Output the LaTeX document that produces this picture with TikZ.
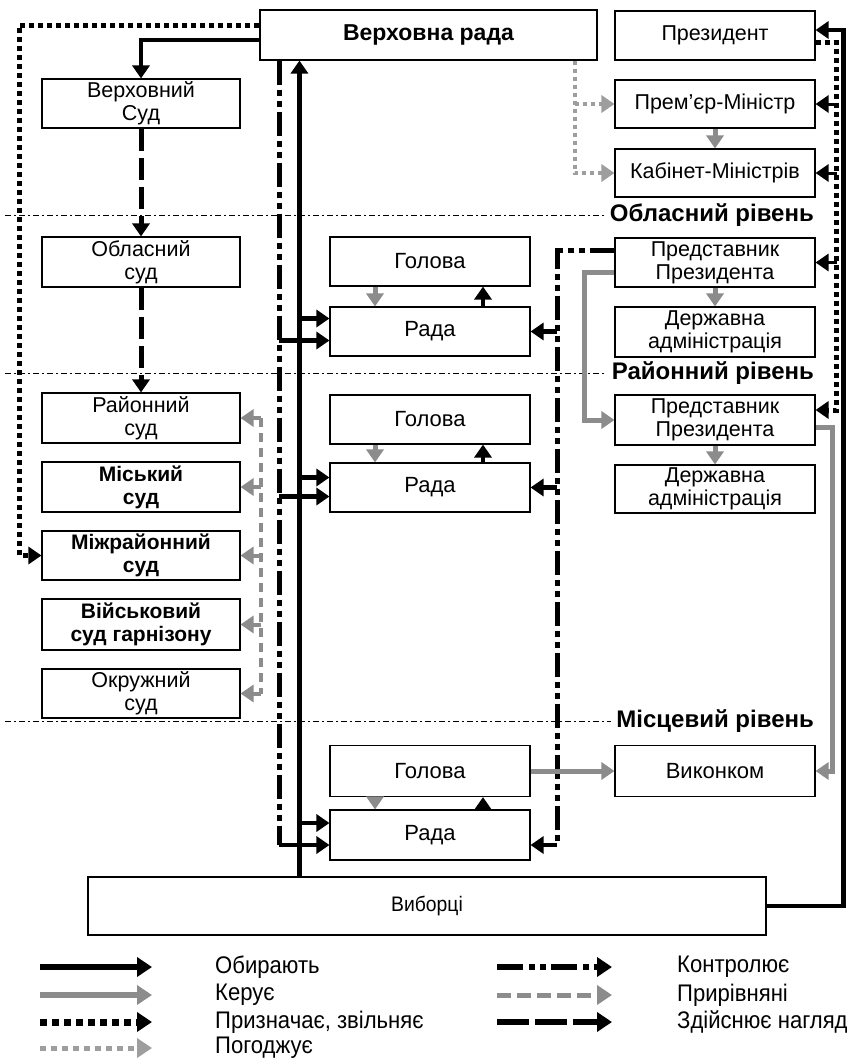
\documentclass[tikz,border=0pt]{standalone}
\usepackage{fontspec}
\setmainfont{Liberation Sans}
\newfontfamily\narrowfont[FakeStretch=0.92]{Liberation Sans}
\usetikzlibrary{arrows.meta}
\definecolor{mgray}{gray}{0.55}
\definecolor{lgray}{gray}{0.62}
\tikzset{
  box/.style={draw, line width=1.1pt, minimum width=200pt, minimum height=49pt, inner sep=1pt, align=center, font=\fontsize{21.5}{23}\selectfont},
  cbox/.style={box, minimum width=198pt},
  bbox/.style={cbox, font=\bfseries\fontsize{21}{23}\selectfont},
  nbox/.style={box, font=\fontsize{22}{23}\selectfont},
  lvl/.style={font=\bfseries\fontsize{24}{26}\selectfont, inner sep=5pt},
  legtxt/.style={anchor=west, inner sep=0pt, font=\narrowfont\fontsize{24}{26}\selectfont},
  tipK/.style={-{Triangle[length=13pt,width=17pt]}},
  elect/.style={line width=4.5pt, black, tipK},
  manage/.style={line width=5pt, mgray, tipK},
  appoint/.style={line width=5pt, black, dash pattern=on 5pt off 4pt, tipK},
  agree/.style={line width=4pt, lgray, dash pattern=on 4pt off 4pt, tipK},
  control/.style={line width=5pt, black, dash pattern=on 24pt off 5pt on 6pt off 5pt on 6pt off 5pt},
  ctrltip/.style={line width=4.5pt, black, tipK},
  equal/.style={line width=4pt, mgray, dash pattern=on 9pt off 6pt},
  eqtip/.style={line width=4pt, mgray, tipK},
  superv/.style={line width=5pt, black, dash pattern=on 22pt off 7pt, tipK},
  level/.style={line width=0.8pt, black, dash pattern=on 6pt off 3pt on 2pt off 3pt},
}
\begin{document}
\begin{tikzpicture}[x=1pt,y=-1pt]
\path[fill=white, use as bounding box] (0,0) rectangle (847,1060);

% level lines
\node[lvl, anchor=east] (l1) at (819,215) {Обласний рівень};
\node[lvl, anchor=east] (l2) at (819,373) {Районний рівень};
\node[lvl, anchor=east] (l3) at (819,721) {Місцевий рівень};
\coordinate (l1s) at (5,215);
\coordinate (l2s) at (5,373);
\coordinate (l3s) at (5,721);
\draw[level] (l1s) -- (l1.west);
\draw[level] (l2s) -- (l2.west);
\draw[level] (l3s) -- (l3.west);

% top
\node[box, minimum width=337pt, minimum height=50pt, font=\bfseries\fontsize{23}{25}\selectfont] (vr) at (428.5,35) {Верховна рада};
\node[box] (pres) at (715,35.5) {Президент};
\node[box, minimum height=48pt] (pm) at (715,104) {Прем’єр-Міністр};
\node[box, minimum height=48pt] (km) at (715,173) {Кабінет-Міністрів};

% courts
\node[cbox] (vs) at (141,103.5) {Верховний\\Суд};
\node[cbox, minimum height=50pt] (os) at (141,262) {Обласний\\суд};
\node[cbox, minimum height=50pt] (rs) at (141,418) {Районний\\суд};
\node[bbox, minimum height=50pt] (ms) at (141,487) {Міський\\суд};
\node[bbox] (mrs) at (141,555.5) {Міжрайонний\\суд};
\node[bbox, minimum height=51pt] (vsg) at (141,624.5) {Військовий\\суд гарнізону};
\node[cbox] (oks) at (141,693.5) {Окружний\\суд};

% councils
\node[nbox] (g1) at (430,261.5) {Голова};
\node[nbox] (r1) at (430,331.5) {Рада};
\node[nbox] (g2) at (430,419.5) {Голова};
\node[nbox] (r2) at (430,487.5) {Рада};
\node[nbox, minimum height=51pt] (g3) at (430,771) {Голова};
\node[nbox, minimum height=50pt] (r3) at (430,835) {Рада};

% executive
\node[box] (pp1) at (715,262.5) {Представник\\Президента};
\node[box, minimum height=50pt] (da1) at (715,332) {Державна\\адміністрація};
\node[box, minimum height=50pt] (pp2) at (715,420) {Представник\\Президента};
\node[box, minimum height=48pt] (da2) at (715,489) {Державна\\адміністрація};
\node[nbox, minimum height=51pt] (vk) at (715,771) {Виконком};

\node[box, minimum width=678pt, minimum height=58pt, font=\narrowfont\fontsize{21}{23}\selectfont] (vyb) at (427,906) {Виборці};

% helper coordinates
\coordinate (cTop) at ([xshift=20pt]vr.south west);
\coordinate (eTop) at ([xshift=40pt]vr.south west);
\coordinate (aTop) at ([xshift=-23pt]vr.south east);
\coordinate (r1a) at ([yshift=13pt]r1.west);
\coordinate (r1b) at ([yshift=-9pt]r1.west);
\coordinate (r2a) at ([yshift=10pt]r2.west);
\coordinate (r2b) at ([yshift=-9pt]r2.west);
\coordinate (r3a) at ([yshift=12pt]r3.west);
\coordinate (r3b) at ([yshift=-10pt]r3.west);
\coordinate (r3c) at ([yshift=-10pt]r3.east);
\coordinate (cR) at ([xshift=-57pt,yshift=12pt]pp1.west);
\coordinate (eqTop) at ([xshift=20pt]rs.east);
\coordinate (dR) at ([xshift=21pt,yshift=-7pt]pres.east);
\coordinate (pp2a) at ([yshift=10pt]pp2.east);

% Pryznachaie (left)
\draw[appoint] ([yshift=10pt]vr.west) -| ([xshift=-22pt]mrs.west) -- (mrs.west);
% Obyraiut: VR -> Supreme court
\draw[elect] ([yshift=-5pt]vr.west) -| (vs.north);
% supervision
\draw[superv] (vs.south) -- (os.north);
\draw[superv] (os.south) -- (rs.north);

% equalled courts
\draw[equal] (eqTop) -- (eqTop |- oks.east);
\draw[eqtip] (eqTop) -- (rs.east);
\draw[eqtip] (eqTop |- ms.east) -- (ms.east);
\draw[eqtip] (eqTop |- mrs.east) -- (mrs.east);
\draw[eqtip] (eqTop |- vsg.east) -- (vsg.east);
\draw[eqtip] (eqTop |- oks.east) -- (oks.east);

% control from VR
\draw[control] (cTop) -- (cTop |- r3b);
\draw[ctrltip] (cTop |- r1b) -- (r1b);
\draw[ctrltip] (cTop |- r2b) -- (r2b);
\draw[ctrltip] (cTop |- r3b) -- (r3b);

% voters elect VR and councils
\draw[elect] (eTop |- vyb.north) -- (eTop);
\draw[elect] (eTop |- r1a) -- (r1a);
\draw[elect] (eTop |- r2a) -- (r2a);
\draw[elect] (eTop |- r3a) -- (r3a);

% head / council
\draw[manage] ([xshift=-55pt]g1.south) -- ([xshift=-55pt]r1.north);
\draw[manage] ([xshift=-55pt]g2.south) -- ([xshift=-55pt]r2.north);
\draw[manage] ([xshift=-55pt]g3.south) -- ([xshift=-55pt]r3.north);
\draw[elect] ([xshift=53pt]r1.north) -- ([xshift=53pt]g1.south);
\draw[elect] ([xshift=53pt]r2.north) -- ([xshift=53pt]g2.south);
\draw[elect] ([xshift=53pt]r3.north) -- ([xshift=53pt]g3.south);

% control from representative
\draw[control] ([yshift=12pt]pp1.west) -- (cR) -- (cR |- r3c);
\draw[ctrltip] (cR |- r1.east) -- (r1.east);
\draw[ctrltip] (cR |- r2.east) -- (r2.east);
\draw[ctrltip] (cR |- r3c) -- (r3c);

% manage
\draw[manage] (pm.south) -- (km.north);
\draw[manage] (pp1.south) -- (da1.north);
\draw[manage] (pp2.south) -- (da2.north);
\draw[manage] ([yshift=-10pt]pp1.west) -| ([xshift=-30pt]pp2.west) -- (pp2.west);
\draw[manage] ([yshift=-7pt]pp2.east) -| ([xshift=17pt]vk.east) -- (vk.east);
\draw[manage] (g3.east) -- (vk.west);

% agree
\draw[agree] (aTop) |- (km.west);
\draw[agree] (aTop |- pm.west) -- (pm.west);

% appoint (right)
\draw[appoint] ([yshift=-7pt]pres.east) -- (dR) |- (pp2a);
\draw[elect, line width=3pt] (dR |- pm.east) -- (pm.east);
\draw[elect, line width=3pt] (dR |- km.east) -- (km.east);
\draw[elect, line width=3pt] (dR |- pp1.east) -- (pp1.east);

% voters elect president
\draw[elect] (vyb.east) -| ([xshift=28pt,yshift=5.5pt]pres.east) -- ([yshift=5.5pt]pres.east);

% legend
\foreach \n/\y in {1/967,2/995,3/1022,4/1048}{
  \coordinate (La\n) at (40,\y); \coordinate (Lb\n) at (152,\y);
  \coordinate (Ra\n) at (497,\y); \coordinate (Rb\n) at (612,\y);
}
\tikzset{legtip/.style={-{Triangle[length=15pt,width=19pt]}}}
\draw[elect, line width=6.5pt, legtip] (La1) -- (Lb1);
\draw[manage, line width=6pt, legtip] (La2) -- (Lb2);
\draw[appoint, line width=7pt, dash pattern=on 7pt off 5pt, legtip] (La3) -- (Lb3);
\draw[agree, line width=5pt, dash pattern=on 6pt off 5pt, legtip] (La4) -- (Lb4);
\draw[control, line width=6.5pt, dash pattern=on 26pt off 6pt on 6pt off 5pt on 6pt off 5pt, legtip] (Ra1) -- (Rb1);
\draw[equal, line width=5pt, dash pattern=on 14pt off 6pt, legtip] (Ra2) -- (Rb2);
\draw[superv, line width=6.5pt, dash pattern=on 32pt off 6pt, legtip] (Ra3) -- (Rb3);
\node[legtxt] (t1) at (215,967) {Обирають};
\node[legtxt] (t2) at (215,995) {Керує};
\node[legtxt] (t3) at (215,1022) {Призначає, звільняє};
\node[legtxt] (t4) at (215,1048) {Погоджує};
\node[legtxt] (t5) at (677,967) {Контролює};
\node[legtxt] (t6) at (677,995) {Прирівняні};
\node[legtxt] (t7) at (677,1022) {Здійснює нагляд};
\end{tikzpicture}
\end{document}
